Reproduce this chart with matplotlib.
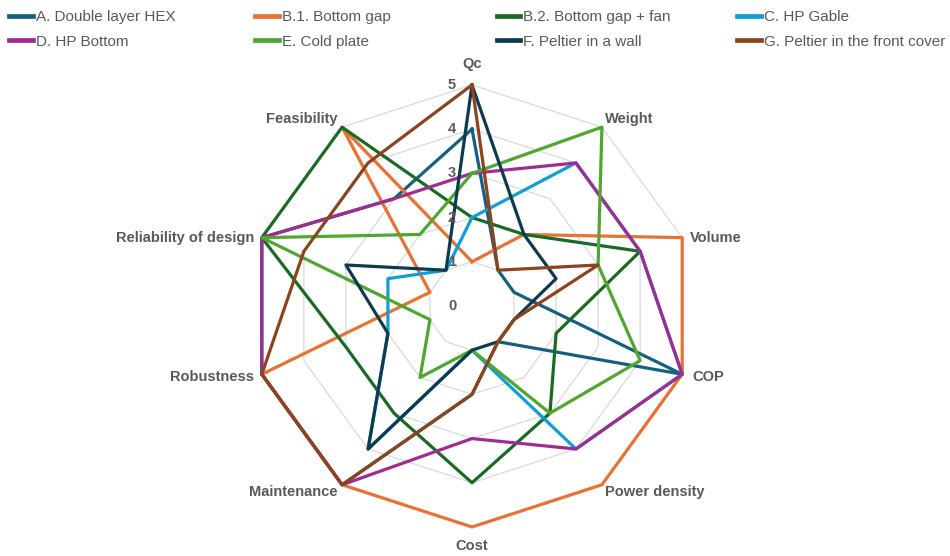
import numpy as np
import matplotlib.pyplot as plt
from matplotlib.lines import Line2D

plt.rcParams['font.family'] = ['Liberation Sans', 'DejaVu Sans']

categories = ['Qc', 'Weight', 'Volume', 'COP', 'Power density', 'Cost',
              'Maintenance', 'Robustness', 'Reliability of design', 'Feasibility']

series_names = ['A. Double layer HEX', 'B.1. Bottom gap', 'B.2. Bottom gap + fan',
                'C. HP Gable', 'D. HP Bottom', 'E. Cold plate',
                'F. Peltier in a wall', 'G. Peltier in the front cover']

a_hex = [4, 1, 1, 5, 1, 2, 5, 5, 5, 3]
b1_gap = [1, 2, 5, 5, 5, 5, 5, 5, 1, 5]
b2_gap_fan = [2, 2, 4, 2, 3, 4, 3, 3, 5, 5]
c_hp_gable = [2, 4, 4, 5, 4, 1, 4, 2, 2, 1]
d_hp_bottom = [3, 4, 4, 5, 4, 3, 5, 5, 5, 3]
e_cold_plate = [3, 5, 3, 4, 3, 1, 2, 1, 5, 2]
f_peltier_wall = [5, 2, 2, 1, 1, 1, 4, 2, 3, 1]
g_peltier_cover = [5, 1, 3, 1, 1, 2, 5, 5, 4, 4]

colors = ['#156082', '#E97132', '#196B24', '#0F9ED5',
          '#A02B93', '#4EA72E', '#0D3A4E', '#8C441E']

rings = [1, 2, 3, 4, 5]
text_color = '#595959'

all_series = [a_hex, b1_gap, b2_gap_fan, c_hp_gable, d_hp_bottom,
              e_cold_plate, f_peltier_wall, g_peltier_cover]

n = len(categories)
angles = np.arange(n) * 2 * np.pi / n
closed = np.append(angles, angles[0])

fig = plt.figure(figsize=(9.5, 5.56), dpi=100)
ax = fig.add_axes([0.2642, 0.0522, 0.4653, 0.795], projection='polar')
ax.set_theta_offset(np.pi / 2)
ax.set_theta_direction(-1)
ax.set_ylim(0, 5)
ax.set_xticks([])
ax.set_yticks([])
ax.grid(False)
ax.spines['polar'].set_visible(False)
ax.patch.set_alpha(0)

# polygon grid
for r in rings:
    ax.plot(closed, [r] * (n + 1), color='#D9D9D9', lw=0.9, zorder=1, clip_on=False)

for vals, col in zip(all_series, colors):
    ax.plot(closed, vals + vals[:1], color=col, lw=2.3, zorder=3,
            solid_joinstyle='round', clip_on=False)

# radial value labels
for r in [0] + rings:
    ax.annotate(str(r), xy=(0, r), xytext=(-20, 0), textcoords='offset pixels',
                ha='center', va='center', fontsize=10.5, fontweight='bold',
                color=text_color, zorder=5)

# category labels
offsets = [(0, 21, 'center'), (3, 8, 'left'), (8, 0, 'left'), (10, -3, 'left'),
           (3, -7, 'left'), (0, -19, 'center'), (-5, -7, 'right'),
           (-8, -3, 'right'), (-8, 0, 'right'), (-5, 8, 'right')]
for ang, cat, (dx, dy, ha) in zip(angles, categories, offsets):
    ax.annotate(cat, xy=(ang, 5), xytext=(dx, dy), textcoords='offset pixels',
                ha=ha, va='center', fontsize=10.5, fontweight='bold',
                color=text_color, annotation_clip=False)

# legend, one block per column
col_x = [0.0, 0.259, 0.513, 0.766]
for c in range(4):
    handles = [Line2D([], [], color=colors[c], lw=3.4),
               Line2D([], [], color=colors[c + 4], lw=3.4)]
    labels = [series_names[c], series_names[c + 4]]
    fig.legend(handles, labels, loc='upper left', bbox_to_anchor=(col_x[c], 0.998),
               frameon=False, handlelength=1.55, handletextpad=0.2,
               labelspacing=0.68, borderaxespad=0.2, labelcolor=text_color,
               prop={'family': ['Liberation Sans', 'DejaVu Sans'], 'size': 11})

fig.savefig('out.png', dpi=100)
